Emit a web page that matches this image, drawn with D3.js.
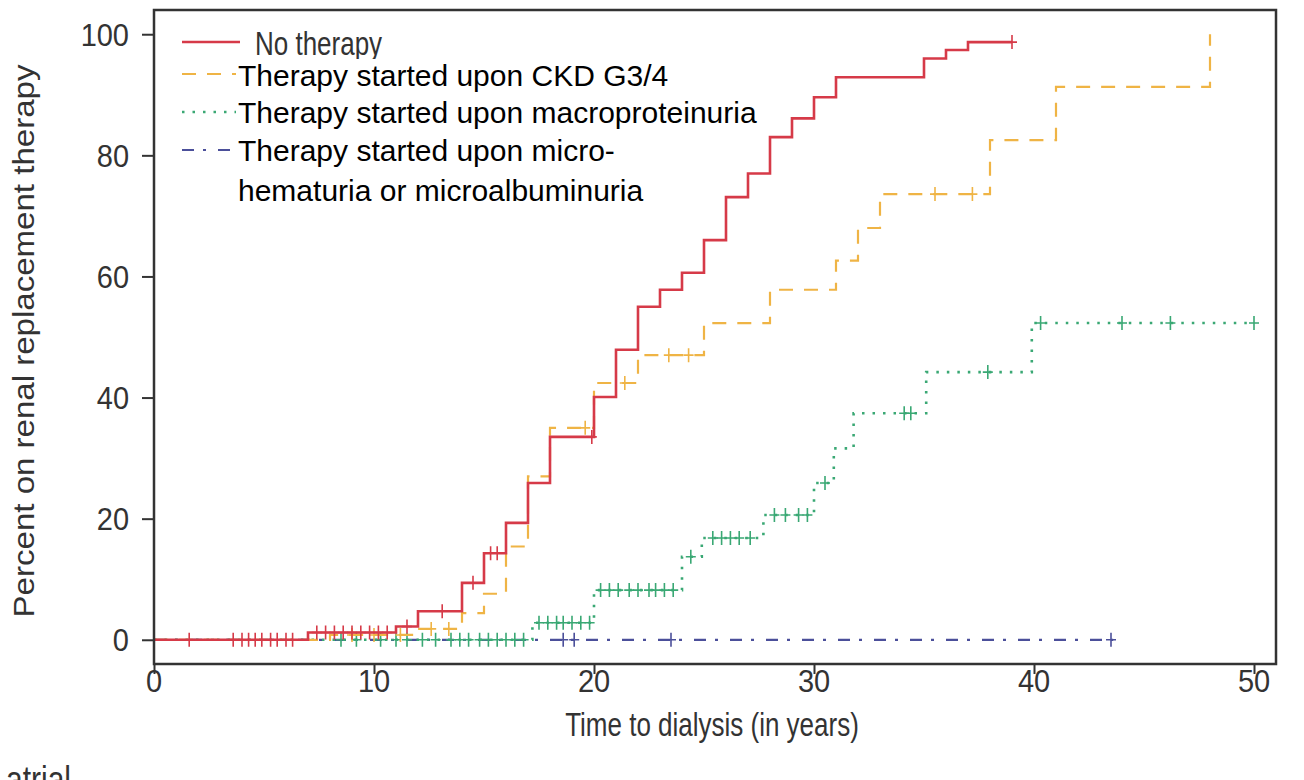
<!DOCTYPE html>
<html><head><meta charset="utf-8">
<script src="https://cdn.jsdelivr.net/npm/d3@7"></script>
<style>body{margin:0;background:#fff} svg{display:block}</style>
</head><body>
<svg id="c" width="1304" height="780"></svg>
<script>
// ---- data ----
const xTickValues = [0, 10, 20, 30, 40, 50];
const yTickValues = [0, 20, 40, 60, 80, 100];
const xTitle = "Time to dialysis (in years)";
const yTitle = "Percent on renal replacement therapy";

const noTherapyTimes  = [0, 7, 11, 12, 14, 15, 16, 17, 18, 20, 21, 22, 23, 24, 25, 26, 27, 28, 29, 30, 31, 35, 36, 37, 39];
const noTherapyValues = [0, 1.2, 2.2, 4.7, 9.4, 14.3, 19.3, 25.9, 33.5, 40.1, 47.9, 55, 57.8, 60.6, 66, 73.1, 77, 83, 86.1, 89.6, 92.9, 96, 97.4, 98.7, 98.7];
const noTherapyCensor = [1.6, 3.6, 4.0, 4.3, 4.6, 4.9, 5.3, 5.6, 6.0, 6.3, 7.4, 7.8, 8.2, 8.6, 9.0, 9.4, 9.8, 10.2, 10.6, 11.5, 13.1, 14.5, 15.3, 15.6, 19.9, 39];

const ckdTimes  = [0, 8, 12, 14, 15, 16, 17, 18, 20, 22, 25, 28, 31, 32, 33, 38, 41, 48];
const ckdValues = [0, 0.8, 1.8, 4.4, 7.6, 15.4, 27, 35, 42.4, 47, 52.3, 57.8, 62.6, 68, 73.6, 82.5, 91.3, 100];
const ckdCensor = [9, 10, 11.2, 12.6, 13.4, 19.6, 21.4, 23.4, 24.3, 35.5, 37.2];

const macroTimes  = [0, 17.2, 20, 24, 24.9, 27.7, 30, 30.9, 31.8, 35.1, 39.9, 50];
const macroValues = [0, 2.8, 8.2, 13.7, 16.8, 20.6, 25.9, 31.6, 37.4, 44.2, 52.3, 52.3];
const macroCensor = [8.5, 9.2, 10.3, 11, 11.5, 12.2, 12.8, 13.5, 13.9, 14.3, 14.8, 15.2, 15.6, 16.0, 16.4, 16.8,
                     17.5, 17.9, 18.3, 18.6, 19.0, 19.4, 19.8, 20.3, 20.7, 21.1, 21.6, 22.0, 22.5, 22.8, 23.2, 23.6,
                     24.4, 25.4, 25.8, 26.2, 26.6, 27.1, 28.2, 28.7, 29.3, 29.7, 30.5, 34.1, 34.4, 37.9, 40.3, 44, 46.2, 50];

const microTimes  = [0, 43.6];
const microValues = [0, 0];
const microCensor = [18.6, 19.1, 23.5, 43.5];

const legendRText = "No therapy";
const legendLines = ["Therapy started upon CKD G3/4", "Therapy started upon macroproteinuria",
                     "Therapy started upon micro-", "hematuria or microalbuminuria"];
const footText = "atrial";

// ---- drawing ----
const svg = d3.select("#c");
const RFONT = "'Liberation Sans', Arial, Helvetica, sans-serif";
const x = d3.scaleLinear().domain([0, 51]).range([154, 1276]);
const y = d3.scaleLinear().domain([-4, 104]).range([664, 10]);

function stepVal(times, vals, t) {
  let v = vals[0];
  for (let i = 0; i < times.length; i++) if (times[i] <= t) v = vals[i];
  return v;
}
function rText(xx, yy, str, anchor, size, stretch) {
  const g = svg.append("g").attr("transform", `translate(${xx},${yy}) scale(1,${stretch})`);
  return g.append("text").attr("text-anchor", anchor).attr("font-family", RFONT)
    .attr("font-size", size).attr("fill", "#333").text(str);
}

const series = [
  {times: microTimes, vals: microValues, cens: microCensor, color: "#4b4f9a", dash: "12,9,3,12", w: 2.2},
  {times: macroTimes, vals: macroValues, cens: macroCensor, color: "#3aa874", dash: "2.5,8", w: 2.6},
  {times: ckdTimes, vals: ckdValues, cens: ckdCensor, color: "#efb445", dash: "14,11", w: 2.2},
  {times: noTherapyTimes, vals: noTherapyValues, cens: noTherapyCensor, color: "#d63a48", dash: null, w: 2.6},
];

const line = d3.line().x(d => x(d[0])).y(d => y(d[1])).curve(d3.curveStepAfter);
series.forEach(s => {
  const pts = s.times.map((t, i) => [t, s.vals[i]]);
  svg.append("path").attr("d", line(pts)).attr("fill", "none")
    .attr("stroke", s.color).attr("stroke-width", s.w)
    .attr("stroke-dasharray", s.dash);
  svg.append("g").selectAll("path").data(s.cens).join("path")
    .attr("d", t => {
      const cx = x(t), cy = y(stepVal(s.times, s.vals, t));
      return `M${cx},${cy - 7}V${cy + 7}M${cx - 5},${cy}H${cx + 5}`;
    })
    .attr("stroke", s.color).attr("stroke-width", 1.6).attr("fill", "none");
});

// box
svg.append("rect").attr("x", x(0)).attr("y", y(104)).attr("width", x(51) - x(0)).attr("height", y(-4) - y(104))
  .attr("fill", "none").attr("stroke", "#333").attr("stroke-width", 2.5);

// axes
const xa = svg.append("g").attr("transform", `translate(0,${y(-4)})`)
  .call(d3.axisBottom(x).tickValues(xTickValues).tickSize(10).tickFormat(d3.format("d")));
xa.select(".domain").remove();
xa.selectAll(".tick line").attr("stroke", "#333").attr("stroke-width", 2);
xa.selectAll(".tick text").remove();
xTickValues.forEach(v => rText(x(v), 692, String(v), "middle", 29, 1.1));

const ya = svg.append("g").attr("transform", `translate(${x(0)},0)`)
  .call(d3.axisLeft(y).tickValues(yTickValues).tickSize(12).tickFormat(d3.format("d")));
ya.select(".domain").remove();
ya.selectAll(".tick line").attr("stroke", "#333").attr("stroke-width", 2);
ya.selectAll(".tick text").remove();
yTickValues.forEach(v => rText(129, y(v) + 11.5, String(v), "end", 29, 1.1));

// titles
rText(712, 736, xTitle, "middle", 26, 1.27);
svg.append("g").attr("transform", `translate(34,341) scale(1,1.14) rotate(-90)`)
  .append("text").attr("text-anchor", "middle").attr("font-family", RFONT)
  .attr("font-size", 29).attr("fill", "#333").text(yTitle);

// footer cut text
rText(6, 792, footText, "start", 30, 1.2);

// legend (original R part)
const legY = [42, 74, 112, 150];
series.slice().reverse().forEach((s, i) => {
  svg.append("line").attr("x1", 182).attr("x2", 240).attr("y1", legY[i]).attr("y2", legY[i])
    .attr("stroke", s.color).attr("stroke-width", s.w).attr("stroke-dasharray", s.dash);
});
rText(255, 55, legendRText, "start", 26, 1.27);

// overlaid label boxes
const lb = [86, 123, 161, 201];
legendLines.forEach((t, i) => {
  const tx = svg.append("text").attr("x", 238).attr("y", lb[i]).attr("font-family", RFONT)
    .attr("font-size", 30).attr("fill", "#000").text(t);
  const w = tx.node().getComputedTextLength();
  svg.insert("rect", () => tx.node()).attr("x", 236).attr("y", lb[i] - 27).attr("width", w + 4).attr("height", 35)
    .attr("fill", "#fff");
});
</script>
</body></html>
